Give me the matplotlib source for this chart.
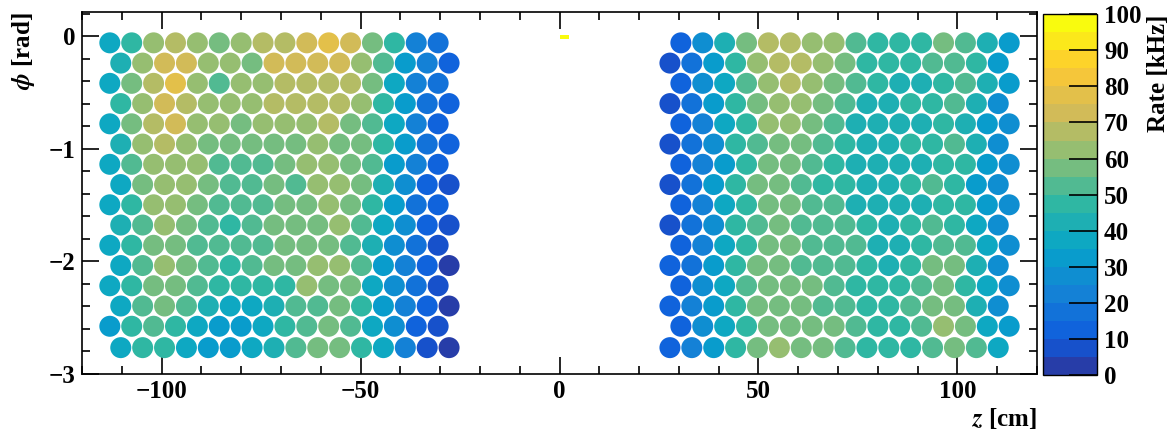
import matplotlib.pyplot as plt
import numpy as np
from matplotlib.colors import LinearSegmentedColormap, ListedColormap, BoundaryNorm
from matplotlib.ticker import MultipleLocator

plt.rcParams['font.family'] = ['Liberation Serif', 'DejaVu Serif']
plt.rcParams['font.weight'] = 'bold'
plt.rcParams['axes.labelweight'] = 'bold'
plt.rcParams['mathtext.fontset'] = 'stix'

# channel rows in phi (rad), top to bottom
phi_rows = [-0.06, -0.24, -0.42, -0.60, -0.78, -0.96, -1.14, -1.32,
            -1.50, -1.68, -1.86, -2.04, -2.22, -2.40, -2.58, -2.77]

# channel columns in z (cm) for even / odd rows
z_left_even = [-113.0, -107.5, -102.0, -96.5, -91.0, -85.5, -80.0, -74.5,
               -69.0, -63.5, -58.0, -52.5, -47.0, -41.5, -36.0, -30.5]
z_left_odd = [-110.25, -104.75, -99.25, -93.75, -88.25, -82.75, -77.25, -71.75,
              -66.25, -60.75, -55.25, -49.75, -44.25, -38.75, -33.25, -27.75]
z_right_even = [30.5, 36.0, 41.5, 47.0, 52.5, 58.0, 63.5, 69.0,
                74.5, 80.0, 85.5, 91.0, 96.5, 102.0, 107.5, 113.0]
z_right_odd = [27.75, 33.25, 38.75, 44.25, 49.75, 55.25, 60.75, 66.25,
               71.75, 77.25, 82.75, 88.25, 93.75, 99.25, 104.75, 110.25]

# rates in kHz, one list per row
rate_left = [
    [37, 48, 62, 66, 62, 58, 62, 65, 68, 72, 75, 70, 58, 46, 22, 18],
    [42, 60, 72, 70, 63, 63, 58, 72, 70, 71, 73, 62, 50, 32, 22, 13],
    [37, 55, 68, 76, 63, 52, 64, 63, 65, 68, 66, 67, 55, 38, 23, 17],
    [46, 63, 71, 66, 62, 61, 61, 65, 66, 65, 66, 62, 46, 30, 17, 12],
    [37, 56, 65, 70, 62, 60, 58, 60, 61, 63, 66, 57, 53, 36, 22, 13],
    [40, 61, 68, 63, 58, 56, 56, 58, 56, 61, 57, 55, 45, 30, 17, 12],
    [37, 51, 61, 63, 60, 54, 50, 54, 55, 60, 61, 59, 50, 34, 22, 12],
    [38, 57, 63, 61, 57, 53, 50, 55, 54, 60, 61, 55, 44, 25, 13, 7],
    [37, 47, 60, 61, 55, 51, 50, 52, 55, 59, 61, 55, 47, 31, 19, 10],
    [40, 52, 62, 56, 52, 49, 50, 56, 58, 59, 61, 52, 38, 25, 13, 5],
    [35, 46, 56, 58, 53, 50, 50, 52, 57, 58, 57, 54, 44, 29, 17, 7],
    [38, 52, 62, 55, 52, 49, 50, 55, 56, 60, 61, 50, 33, 22, 13, 3],
    [36, 46, 56, 57, 52, 47, 47, 47, 49, 61, 55, 56, 36, 27, 18, 6],
    [37, 52, 55, 50, 44, 38, 38, 44, 51, 52, 55, 47, 33, 22, 10, 2],
    [33, 45, 52, 47, 36, 33, 33, 39, 49, 52, 55, 50, 39, 25, 12, 6],
    [35, 46, 47, 35, 32, 31, 35, 44, 52, 55, 58, 47, 36, 22, 8, 3],
]
rate_right = [
    [13, 25, 43, 57, 65, 68, 64, 61, 52, 47, 47, 47, 55, 52, 44, 32],
    [7, 19, 32, 47, 60, 65, 66, 61, 55, 47, 46, 47, 50, 54, 45, 33],
    [13, 25, 38, 52, 61, 66, 61, 55, 50, 45, 44, 44, 49, 50, 44, 31],
    [8, 19, 32, 47, 57, 61, 60, 55, 50, 41, 43, 45, 49, 52, 44, 25],
    [12, 22, 36, 49, 60, 60, 57, 52, 43, 41, 43, 44, 47, 44, 34, 27],
    [7, 17, 27, 47, 54, 57, 55, 52, 46, 43, 41, 45, 47, 52, 41, 25],
    [12, 22, 34, 47, 55, 55, 52, 47, 44, 41, 41, 44, 47, 47, 34, 27],
    [8, 19, 30, 47, 55, 58, 52, 49, 47, 43, 43, 45, 50, 47, 34, 25],
    [12, 22, 35, 47, 55, 55, 52, 50, 44, 42, 44, 43, 47, 47, 34, 25],
    [7, 18, 27, 45, 54, 55, 52, 50, 50, 45, 43, 47, 50, 47, 37, 25],
    [12, 22, 35, 49, 55, 56, 52, 52, 52, 44, 44, 47, 52, 52, 37, 25],
    [12, 19, 31, 47, 55, 56, 54, 52, 52, 45, 44, 47, 55, 57, 43, 25],
    [13, 25, 35, 52, 58, 56, 55, 52, 49, 45, 47, 50, 55, 49, 37, 25],
    [12, 22, 32, 47, 55, 57, 55, 54, 52, 47, 47, 50, 55, 57, 44, 25],
    [13, 25, 38, 49, 58, 57, 58, 55, 50, 47, 47, 50, 60, 55, 38, 30],
    [12, 22, 33, 47, 56, 60, 58, 55, 50, 47, 47, 47, 52, 58, 50, 36],
]

# lone hot bin near z = 0
hot_z = [1.25]
hot_phi = [-0.012]
hot_rate = [100]

# ROOT kBird palette, 20 contour levels
bird_stops = [0.0, 0.125, 0.25, 0.375, 0.5, 0.625, 0.75, 0.875, 1.0]
bird_r = [0.2082, 0.0592, 0.0780, 0.0232, 0.1802, 0.5301, 0.8186, 0.9956, 0.9764]
bird_g = [0.1664, 0.3599, 0.5041, 0.6419, 0.7178, 0.7492, 0.7328, 0.7862, 0.9832]
bird_b = [0.5293, 0.8684, 0.8385, 0.7914, 0.6425, 0.4662, 0.3499, 0.1968, 0.0539]
bird = LinearSegmentedColormap.from_list(
    'bird', list(zip(bird_stops, zip(bird_r, bird_g, bird_b))))
levels = np.arange(0, 105, 5)
cmap = ListedColormap([bird((i + 1) / 20) for i in range(20)])
norm = BoundaryNorm(levels, cmap.N)


def block_points(z_even, z_odd, rates):
    zs, ps, vs = [], [], []
    for i, phi in enumerate(phi_rows):
        cols = z_even if i % 2 == 0 else z_odd
        zs += cols
        ps += [phi] * len(cols)
        vs += rates[i]
    return zs, ps, vs


fig = plt.figure(figsize=(11.71, 4.32), dpi=100)
ax = fig.add_axes([0.070, 0.1354, 0.8156, 0.8357])
cax = fig.add_axes([0.8907, 0.132, 0.0461, 0.835])

msize = (21 * 72 / 100) ** 2
for ze, zo, r in [(z_left_even, z_left_odd, rate_left),
                  (z_right_even, z_right_odd, rate_right)]:
    zs, ps, vs = block_points(ze, zo, r)
    sc = ax.scatter(zs, ps, c=vs, s=msize, cmap=cmap, norm=norm,
                    edgecolors='none', zorder=3)

ax.bar(hot_z, 0.035, width=2.5, bottom=np.array(hot_phi) - 0.0175,
       color=cmap(norm(np.array(hot_rate) - 0.1)), zorder=3)

ax.set_xlim(-120, 120)
ax.set_ylim(-3, 0.21)
ax.xaxis.set_major_locator(MultipleLocator(50))
ax.xaxis.set_minor_locator(MultipleLocator(10))
ax.yaxis.set_major_locator(MultipleLocator(1))
ax.yaxis.set_minor_locator(MultipleLocator(0.2))
ax.tick_params(which='both', direction='in', top=True, right=True,
               width=1.2, labelsize=18)
ax.tick_params(which='major', length=12, pad=5)
ax.tick_params(which='minor', length=6)
for s in ax.spines.values():
    s.set_linewidth(1.2)

ax.set_xlabel('$z$ [cm]', fontsize=18, loc='right', labelpad=2)
ax.set_ylabel('$\\phi$ [rad]', fontsize=18, loc='top', labelpad=8)

cb = fig.colorbar(sc, cax=cax, ticks=np.arange(0, 101, 10))
cb.outline.set_linewidth(1.0)
cax.tick_params(direction='in', length=20, width=1.2, labelsize=18, pad=5)
cax.minorticks_off()
cb.set_label('Rate [kHz]', fontsize=18, loc='top', labelpad=4)

fig.savefig('out.png', dpi=100)
